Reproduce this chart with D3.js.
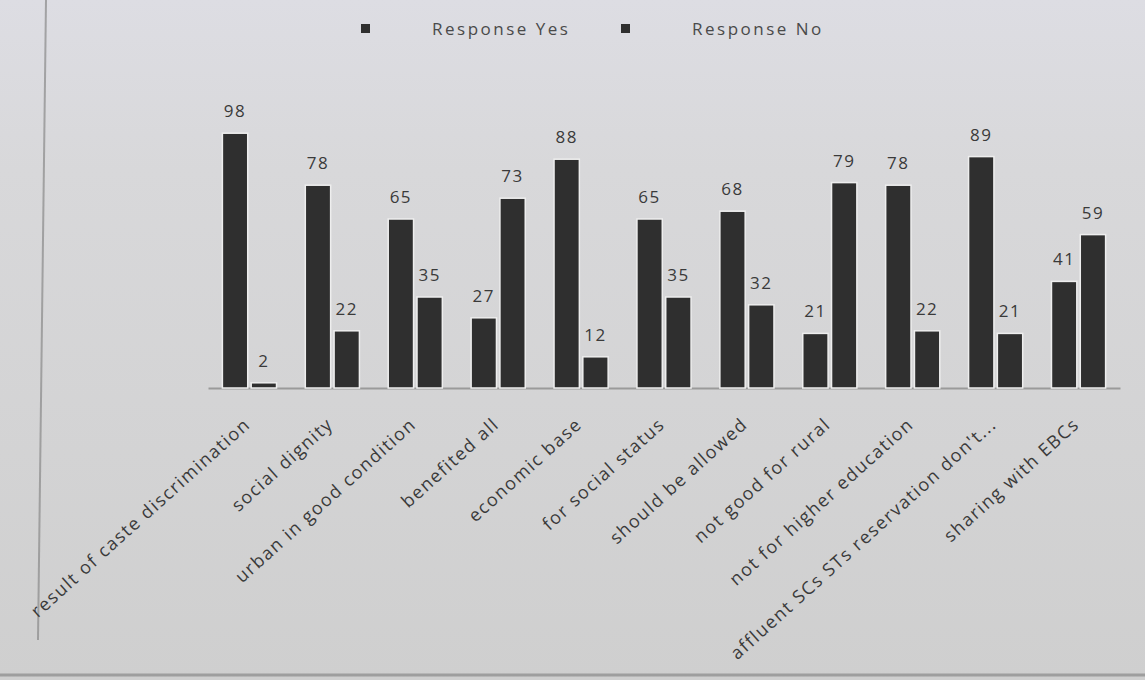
<!DOCTYPE html>
<html>
<head>
<meta charset="utf-8">
<script src="https://cdn.jsdelivr.net/npm/d3@7"></script>
<style>
  html, body { margin: 0; padding: 0; background: #d3d3d3; }
  svg { display: block; }
</style>
</head>
<body>
<svg id="chart" width="1145" height="680"></svg>
<script>
const categories = [
  "result of caste discrimination",
  "social dignity",
  "urban in good condition",
  "benefited all",
  "economic base",
  "for social status",
  "should be allowed",
  "not good for rural",
  "not for higher education",
  "affluent SCs STs reservation don't...",
  "sharing with EBCs"
];
const seriesNames = ["Response Yes", "Response No"];
const responseYes = [98, 78, 65, 27, 88, 65, 68, 21, 78, 89, 41];
const responseNo  = [2, 22, 35, 73, 12, 35, 32, 79, 22, 21, 59];
const yDomain = [0, 100];

const W = 1145, H = 680;
const svg = d3.select("#chart");

// paper-like background
const defs = svg.append("defs");
const g1 = defs.append("linearGradient").attr("id", "bg").attr("x1", 0).attr("y1", 0).attr("x2", 0).attr("y2", 1);
g1.append("stop").attr("offset", "0%").attr("stop-color", "#dddde3");
g1.append("stop").attr("offset", "25%").attr("stop-color", "#d8d8da");
g1.append("stop").attr("offset", "100%").attr("stop-color", "#cfcfcf");
svg.append("rect").attr("width", W).attr("height", H).attr("fill", "url(#bg)");
// page edge lines
svg.append("line").attr("x1", 46).attr("y1", 0).attr("x2", 38).attr("y2", 640)
  .attr("stroke", "#8a8a8a").attr("stroke-width", 2).attr("opacity", 0.7);
svg.append("line").attr("x1", 0).attr("y1", 675).attr("x2", W).attr("y2", 675)
  .attr("stroke", "#8a8a8a").attr("stroke-width", 3).attr("opacity", 0.7);

const margin = { left: 208, right: 25, top: 128, bottom: 292 };
const x0 = d3.scaleBand().domain(categories).range([margin.left, W - margin.right]).paddingInner(0).paddingOuter(0);
const x1 = d3.scaleBand().domain(seriesNames).range([0, x0.bandwidth()]).paddingInner(0.12).paddingOuter(0.5);
const y = d3.scaleLinear().domain(yDomain).range([H - margin.bottom, margin.top]);

const rows = categories.map((c, i) => ({ cat: c, vals: [
  { s: seriesNames[0], v: responseYes[i] },
  { s: seriesNames[1], v: responseNo[i] }
]}));

// baseline axis
const xAxis = d3.axisBottom(x0).tickSize(0).tickFormat("");
const ax = svg.append("g").attr("transform", `translate(0,${y(0)})`).call(xAxis);
ax.select(".domain").attr("stroke", "#9a9a9a").attr("stroke-width", 2);

const groups = svg.append("g").selectAll("g").data(rows).join("g")
  .attr("transform", d => `translate(${x0(d.cat)},0)`);

groups.selectAll("rect").data(d => d.vals).join("rect")
  .attr("x", d => x1(d.s))
  .attr("y", d => y(d.v))
  .attr("width", x1.bandwidth())
  .attr("height", d => y(0) - y(d.v))
  .attr("fill", "#2f2f2f")
  .attr("stroke", "#eeeeee")
  .attr("stroke-width", 1.5);

groups.selectAll("text.val").data(d => d.vals).join("text")
  .attr("class", "val")
  .attr("x", d => x1(d.s) + x1.bandwidth() / 2)
  .attr("y", d => y(d.v) - 16)
  .attr("text-anchor", "middle")
  .attr("font-family", "Open Sans, sans-serif")
  .attr("font-size", 17)
  .attr("letter-spacing", 1.5)
  .attr("fill", "#3a3a3a")
  .text(d => d.v);

// category labels rotated
svg.append("g").selectAll("text").data(categories).join("text")
  .attr("transform", d => `translate(${x0(d) + x0.bandwidth() / 2 + 2},${y(0) + 38}) rotate(-42)`)
  .attr("text-anchor", "end")
  .attr("font-family", "Open Sans, sans-serif")
  .attr("font-size", 18)
  .attr("letter-spacing", 1.5)
  .attr("fill", "#3a3a3a")
  .text(d => d);

// legend
const legendX = [361, 621];
const legend = svg.append("g").selectAll("g").data(seriesNames).join("g")
  .attr("transform", (d, i) => `translate(${legendX[i]},24)`);
legend.append("rect").attr("width", 9).attr("height", 9).attr("fill", "#2f2f2f");
legend.append("text").attr("x", 71).attr("y", 11)
  .attr("font-family", "Open Sans, sans-serif").attr("font-size", 17)
  .attr("letter-spacing", 2.5)
  .attr("fill", "#4a4a4a").text(d => d);
</script>
</body>
</html>
